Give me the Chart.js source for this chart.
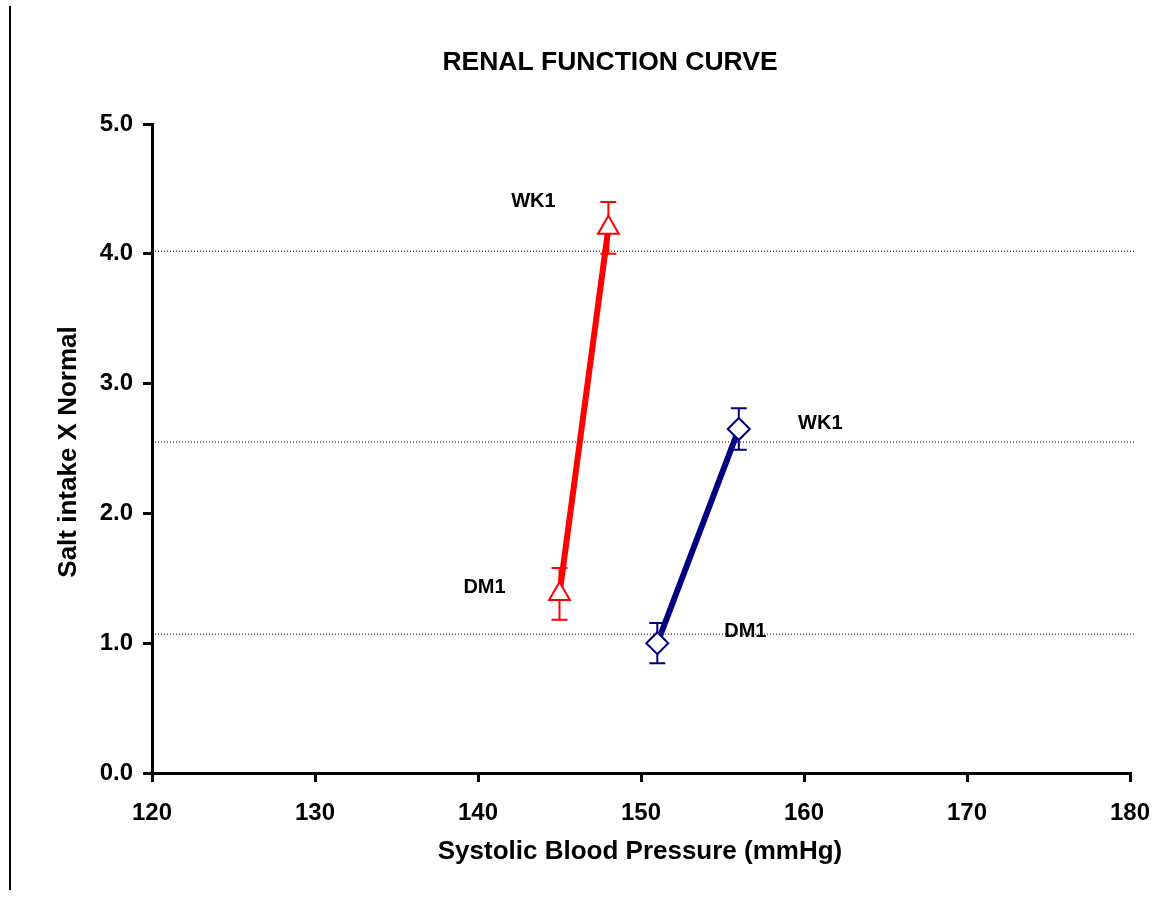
<!DOCTYPE html>
<html>
<head>
<meta charset="utf-8">
<title>Renal function curve</title>
<script src="https://cdn.jsdelivr.net/npm/chart.js@4.4.1/dist/chart.umd.min.js"></script>
<style>
  html, body { margin: 0; padding: 0; background: #fff; }
  #contenedor { position: relative; width: 1155px; height: 911px; }
  #marco { position: absolute; left: 9px; top: 6px; height: 884px; border-left: 2px solid #000; }
</style>
</head>
<body>
<div id="contenedor">
  <canvas id="js-grafico-renal" width="1155" height="911"></canvas>
  <div id="marco"></div>
</div>
<script>
// Datos de cada grupo: presion sistolica (x), sal ingerida (y) y su error
const etapas = ['DM1', 'WK1']

const presionRojo = [145, 148]
const salRojo = [1.38, 4.2]
const errorRojo = [0.2, 0.2]

const presionAzul = [151, 156]
const salAzul = [1.0, 2.65]
const errorAzul = [0.155, 0.16]

// Donde va cada etiqueta DM1 / WK1 (en unidades de los ejes)
const etiquetaRojoX = [140.4, 143.4]
const etiquetaRojoY = [1.43, 4.40]
const etiquetaAzulX = [156.4, 161.0]
const etiquetaAzulY = [1.09, 2.69]

// Lineas punteadas horizontales de referencia
const nivelesReferencia = [4.02, 2.55, 1.07]
const finReferencia = 180.3

// Ejes
const ticksX = [120, 130, 140, 150, 160, 170, 180]
const ticksY = [0, 1, 2, 3, 4, 5]

const fuente = '"Liberation Sans", Arial, sans-serif'

const puntos = (xs, ys) => xs.map((x, i) => ({ x: x, y: ys[i] }))

// Barras de error dibujadas justo antes de la linea de su serie
const barrasError = {
    id: 'barrasError',
    beforeDatasetDraw(chart, args) {
        const ds = chart.data.datasets[args.index]
        if (!ds.errores) return
        const { ctx, scales: { x, y } } = chart
        ctx.save()
        ctx.strokeStyle = ds.borderColor
        ctx.lineWidth = 2
        ds.data.forEach((p, i) => {
            const px = x.getPixelForValue(p.x)
            const arriba = y.getPixelForValue(p.y + ds.errores[i])
            const abajo = y.getPixelForValue(p.y - ds.errores[i])
            ctx.beginPath()
            ctx.moveTo(px, arriba); ctx.lineTo(px, abajo)
            ctx.moveTo(px - 8, arriba); ctx.lineTo(px + 8, arriba)
            ctx.moveTo(px - 8, abajo); ctx.lineTo(px + 8, abajo)
            ctx.stroke()
        })
        ctx.restore()
    }
}

// Titulo, titulos de ejes y etiquetas de cada punto
const textos = {
    id: 'textos',
    afterDraw(chart) {
        const { ctx, scales: { x, y } } = chart
        ctx.save()
        ctx.fillStyle = '#000'
        ctx.textAlign = 'center'
        ctx.textBaseline = 'middle'

        ctx.font = 'bold 26.5px ' + fuente
        ctx.fillText('RENAL FUNCTION CURVE', 610, 63)
        ctx.font = 'bold 26px ' + fuente
        ctx.fillText('Systolic Blood Pressure (mmHg)', 640, 852)

        ctx.save()
        ctx.translate(69, 452)
        ctx.rotate(-Math.PI / 2)
        ctx.fillText('Salt intake X Normal', 0, 0)
        ctx.restore()

        ctx.font = 'bold 20px ' + fuente
        etapas.forEach((txt, i) => {
            ctx.fillText(txt, x.getPixelForValue(etiquetaRojoX[i]), y.getPixelForValue(etiquetaRojoY[i]))
            ctx.fillText(txt, x.getPixelForValue(etiquetaAzulX[i]), y.getPixelForValue(etiquetaAzulY[i]))
        })
        ctx.restore()
    }
}

const lineasReferencia = nivelesReferencia.map(v => ({
    data: [{ x: ticksX[0], y: v }, { x: finReferencia, y: v }],
    borderColor: '#000',
    borderWidth: 1,
    borderDash: [1, 2],
    pointRadius: 0,
    clip: false
}))

const ejeComun = {
    ticks: {
        color: '#000',
        font: { family: fuente, size: 24, weight: 'bold' }
    },
    grid: {
        drawOnChartArea: false,
        drawTicks: true,
        tickLength: 9,
        color: '#000',
        lineWidth: 3
    },
    border: { color: '#000', width: 3 }
}

const grafico = document.getElementById('js-grafico-renal')
new Chart(grafico, {
    type: 'line',
    data: {
        datasets: [
            {
                label: 'Rojo',
                data: puntos(presionRojo, salRojo),
                errores: errorRojo,
                borderColor: '#ff0000',
                borderWidth: 6,
                pointStyle: 'triangle',
                pointRadius: 12,
                pointBorderWidth: 2,
                pointBackgroundColor: '#fff',
                pointBorderColor: '#ff0000'
            },
            {
                label: 'Azul',
                data: puntos(presionAzul, salAzul),
                errores: errorAzul,
                borderColor: '#000080',
                borderWidth: 6,
                pointStyle: 'rectRot',
                pointRadius: 11,
                pointBorderWidth: 2,
                pointBackgroundColor: '#fff',
                pointBorderColor: '#000080'
            },
            ...lineasReferencia
        ]
    },
    options: {
        responsive: false,
        animation: false,
        layout: { padding: { top: 124, right: 25, left: 0, bottom: 0 } },
        plugins: { legend: { display: false }, tooltip: { enabled: false } },
        scales: {
            x: {
                ...ejeComun,
                type: 'linear',
                position: 'bottom',
                min: ticksX[0],
                max: ticksX[ticksX.length - 1],
                afterBuildTicks: s => { s.ticks = ticksX.map(v => ({ value: v })) },
                ticks: { ...ejeComun.ticks, padding: 17 },
                afterFit: s => { s.height = 138; s.paddingLeft = 0; s.paddingRight = 0 }
            },
            y: {
                ...ejeComun,
                type: 'linear',
                min: ticksY[0],
                max: ticksY[ticksY.length - 1],
                afterBuildTicks: s => { s.ticks = ticksY.map(v => ({ value: v })) },
                ticks: { ...ejeComun.ticks, padding: 10, callback: v => v.toFixed(1) },
                afterFit: s => { s.width = 152; s.paddingTop = 0; s.paddingBottom = 0 }
            }
        }
    },
    plugins: [barrasError, textos]
})
</script>
</body>
</html>
